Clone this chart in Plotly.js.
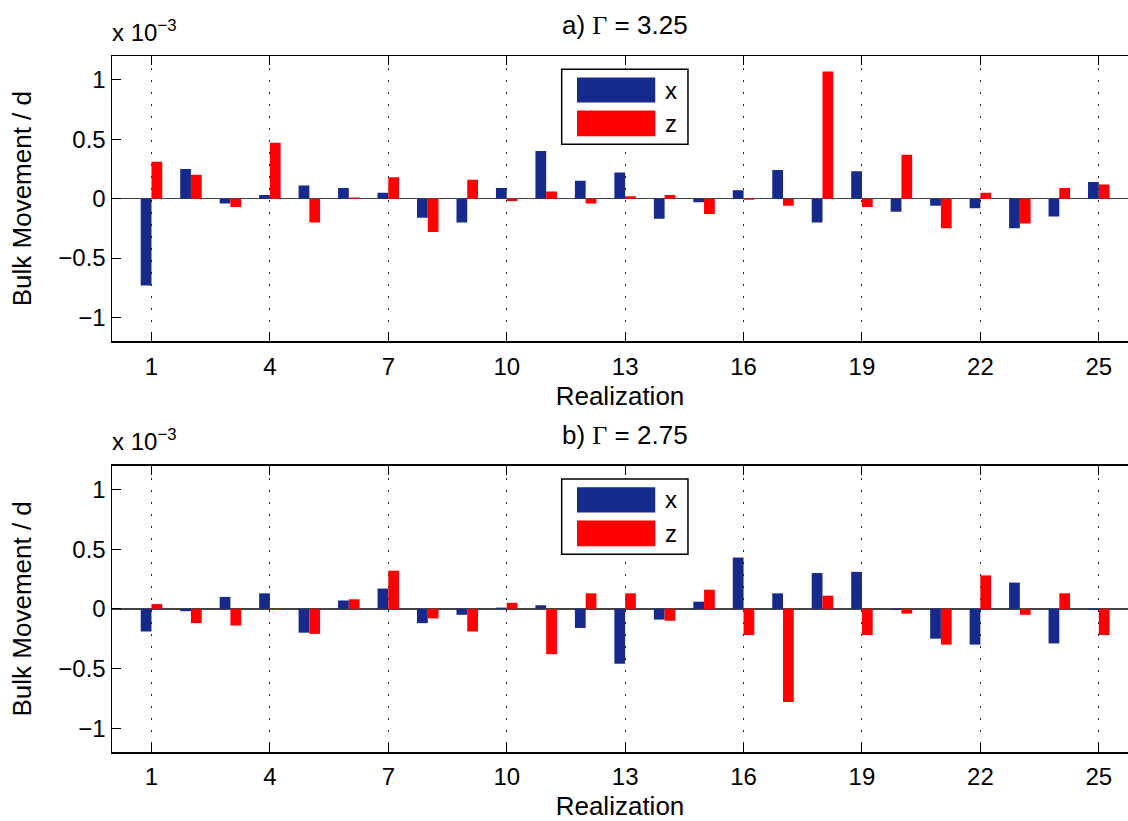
<!DOCTYPE html>
<html><head><meta charset="utf-8">
<script src="https://cdn.plot.ly/plotly-3.0.1.min.js"></script>
<style>html,body{margin:0;padding:0;background:#fff}</style>
</head><body><div id="chart" style="width:1128px;height:821px"></div>
<script>
// Realization index (categories)
const realization = [1,2,3,4,5,6,7,8,9,10,11,12,13,14,15,16,17,18,19,20,21,22,23,24,25];
const xTickVals = [1,4,7,10,13,16,19,22,25];
const yTickVals = [-1,-0.5,0,0.5,1];

// Panel a) Gamma = 3.25, values in units of 1e-3
const a_x = [-0.73,0.25,-0.04,0.03,0.11,0.09,0.05,-0.16,-0.20,0.09,0.40,0.15,0.22,-0.17,-0.03,0.07,0.24,-0.20,0.23,-0.11,-0.06,-0.08,-0.25,-0.15,0.14];
const a_z = [0.31,0.20,-0.07,0.47,-0.20,0.01,0.18,-0.28,0.16,-0.02,0.06,-0.04,0.02,0.03,-0.13,-0.01,-0.06,1.07,-0.07,0.37,-0.25,0.05,-0.21,0.09,0.12];

// Panel b) Gamma = 2.75, values in units of 1e-3
const b_x = [-0.19,-0.02,0.10,0.13,-0.20,0.07,0.17,-0.12,-0.05,0.01,0.03,-0.16,-0.46,-0.09,0.06,0.43,0.13,0.30,0.31,-0.01,-0.25,-0.30,0.22,-0.29,-0.01];
const b_z = [0.04,-0.12,-0.14,-0.01,-0.21,0.08,0.32,-0.08,-0.19,0.05,-0.38,0.13,0.13,-0.10,0.16,-0.22,-0.78,0.11,-0.22,-0.04,-0.30,0.28,-0.05,0.13,-0.22];

const seriesNames = ['x','z'];
const panelTitles = ['a) <span style="font-family:\'Liberation Serif\',serif">Γ</span> = 3.25',
                     'b) <span style="font-family:\'Liberation Serif\',serif">Γ</span> = 2.75'];
const xTitle = 'Realization';
const yTitle = 'Bulk Movement / d';
const expLabel = 'x 10<sup>−3</sup>';

const BLUE = '#152a8a', RED = '#ff0000';
const FONT = "'Liberation Sans', Arial, Helvetica, sans-serif";

function bar(y, name, color, xa, ya){
  return {type:'bar', x: realization, y: y, name: name, xaxis: xa, yaxis: ya,
          marker:{color: color, line:{width:0}}, showlegend:false};
}
const data = [
  bar(a_x, seriesNames[0], BLUE, 'x', 'y'),
  bar(a_z, seriesNames[1], RED, 'x', 'y'),
  bar(b_x, seriesNames[0], BLUE, 'x2', 'y2'),
  bar(b_z, seriesNames[1], RED, 'x2', 'y2')
];

function xaxis(domainAnchor){
  return {anchor: domainAnchor, range:[0, 25.74], tickvals: xTickVals,
    ticks:'inside', ticklen:9, tickwidth:1, tickcolor:'#000',
    showline:true, linecolor:'#000', linewidth:1.5, mirror:'ticks',
    showgrid:true, gridcolor:'#222', gridwidth:1, griddash:'2px,10px',
    zeroline:false, tickfont:{size:24, color:'#000'}, ticklabelstandoff:3,
    title:{text: xTitle, font:{size:26, color:'#000'}, standoff:8}};
}
function yaxis(domain, anchor){
  return {domain: domain, anchor: anchor, range:[-1.2,1.2], tickvals: yTickVals,
    ticks:'inside', ticklen:9, tickwidth:1, tickcolor:'#000',
    showline:true, linecolor:'#000', linewidth:1.5, mirror:false,
    showgrid:false, zeroline:true, zerolinecolor:'#444', zerolinewidth:1.5,
    tickfont:{size:24, color:'#000'},
    title:{text: yTitle, font:{size:26, color:'#000'}, standoff:19}};
}

const shapes = [], annotations = [];
[['x domain','y domain'],['x2 domain','y2 domain']].forEach((r, i) => {
  const [xr, yr] = r;
  shapes.push({type:'rect', xref:xr, yref:yr, x0:0.4426, x1:0.5669, y0:0.691, y1:0.9534,
               line:{color:'#000', width:1.5}, fillcolor:'#fff', layer:'above'});
  shapes.push({type:'rect', xref:xr, yref:yr, x0:0.4577, x1:0.5347, y0:0.8368, y1:0.9244,
               line:{width:0}, fillcolor:BLUE, layer:'above'});
  shapes.push({type:'rect', xref:xr, yref:yr, x0:0.4577, x1:0.5347, y0:0.7188, y1:0.8088,
               line:{width:0}, fillcolor:RED, layer:'above'});
  annotations.push({xref:xr, yref:yr, x:0.5423, y:0.8806, xanchor:'left', yanchor:'middle',
                    text: seriesNames[0], showarrow:false, font:{size:24, color:'#000'}});
  annotations.push({xref:xr, yref:yr, x:0.5423, y:0.7637, xanchor:'left', yanchor:'middle',
                    text: seriesNames[1], showarrow:false, font:{size:24, color:'#000'}});
  annotations.push({xref:xr, yref:yr, x:0.505, y:1.1075, xanchor:'center', yanchor:'middle',
                    text: panelTitles[i], showarrow:false, font:{size:26, color:'#000'}});
  annotations.push({xref:xr, yref:yr, x:-0.002, y:1.029, xanchor:'left', yanchor:'bottom',
                    text: expLabel, showarrow:false, font:{size:24, color:'#000'}});
});

const layout = {
  width:1128, height:821,
  margin:{l:112, r:0, t:56, b:69, pad:0},
  paper_bgcolor:'#fff', plot_bgcolor:'#fff',
  font:{family: FONT, color:'#000'},
  barmode:'group', bargap:0.455, bargroupgap:0,
  xaxis: xaxis('y'), yaxis: yaxis([0.5901,1],'x'),
  xaxis2: xaxis('y2'), yaxis2: yaxis([0,0.4114],'x2'),
  shapes: shapes, annotations: annotations
};

Plotly.newPlot('chart', data, layout, {displayModeBar:false, staticPlot:true});
</script></body></html>
